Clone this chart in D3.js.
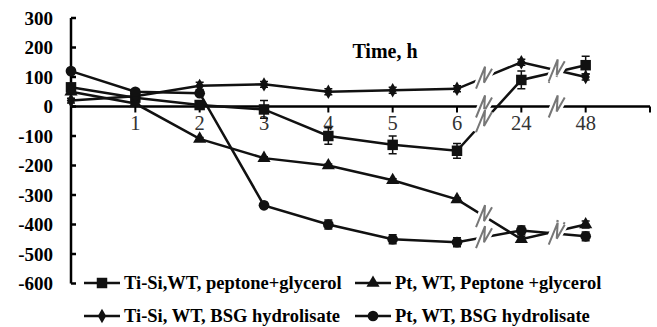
<!DOCTYPE html>
<html>
<head>
<meta charset="utf-8">
<script src="https://cdn.jsdelivr.net/npm/d3@7.9.0/dist/d3.min.js"></script>
<style>
  body { margin: 0; background: #fff; }
  svg { display: block; font-family: "Liberation Serif", "Times New Roman", serif; }
</style>
</head>
<body>
<div id="chart"></div>
<script>
// categories (hours); last slot is an empty category at the end of the axis
const hours = ["0", "1", "2", "3", "4", "5", "6", "24", "48", ""];
const yTicks = [300, 200, 100, 0, -100, -200, -300, -400, -500, -600];

const tiSiPeptone = [65, 30, 5, -10, -100, -130, -150, 90, 140];
const tiSiPeptoneErr = [12, 8, 8, 30, 28, 30, 25, 30, 30];
const ptPeptone = [50, 10, -110, -175, -200, -250, -315, -450, -400];
const ptPeptoneErr = [5, 5, 5, 5, 5, 5, 5, 10, 12];
const tiSiBsg = [20, 35, 70, 75, 50, 55, 60, 150, 100];
const tiSiBsgErr = [8, 8, 12, 10, 10, 10, 10, 10, 10];
const ptBsg = [120, 50, 45, -335, -400, -450, -460, -420, -440];
const ptBsgErr = [8, 8, 8, 10, 15, 15, 15, 15, 15];

const series = [
  { name: "Ti-Si,WT, peptone+glycerol", values: tiSiPeptone, err: tiSiPeptoneErr, shape: d3.symbolSquare, size: 110 },
  { name: "Pt, WT, Peptone +glycerol", values: ptPeptone, err: ptPeptoneErr, shape: d3.symbolTriangle, size: 75 },
  { name: "Ti-Si, WT, BSG hydrolisate", values: tiSiBsg, err: tiSiBsgErr, shape: d3.symbolDiamond, size: 60 },
  { name: "Pt, WT, BSG hydrolisate", values: ptBsg, err: ptBsgErr, shape: d3.symbolCircle, size: 90 },
];

const width = 657, height = 327;
const svg = d3.select("#chart").append("svg")
  .attr("width", width).attr("height", height);

const x = d3.scalePoint().domain(d3.range(hours.length)).range([71, 650]);
const y = d3.scaleLinear().domain([-600, 300]).range([283.5, 18]);

// y axis
svg.append("line")
  .attr("x1", 71).attr("x2", 71).attr("y1", y(300)).attr("y2", y(-600))
  .attr("stroke", "#000").attr("stroke-width", 2.5);
svg.append("g").selectAll("line").data(yTicks).join("line")
  .attr("x1", 71).attr("x2", 76).attr("y1", d => y(d)).attr("y2", d => y(d))
  .attr("stroke", "#000").attr("stroke-width", 2.5);
svg.append("g").selectAll("text").data(yTicks).join("text")
  .attr("x", 53).attr("y", d => y(d)).attr("dy", "0.35em")
  .attr("text-anchor", "end").attr("font-size", 19).attr("font-weight", "bold")
  .text(d => d);

// x axis at zero
svg.append("line")
  .attr("x1", 71).attr("x2", 650).attr("y1", y(0)).attr("y2", y(0))
  .attr("stroke", "#000").attr("stroke-width", 2.5);
svg.append("g").selectAll("line").data(d3.range(1, hours.length)).join("line")
  .attr("x1", d => x(d)).attr("x2", d => x(d)).attr("y1", y(0)).attr("y2", y(0) + 6)
  .attr("stroke", "#000").attr("stroke-width", 2);
svg.append("g").selectAll("text").data(d3.range(1, hours.length)).join("text")
  .attr("x", d => x(d)).attr("y", 130)
  .attr("text-anchor", "middle").attr("font-size", 20.5).attr("fill", "#333")
  .text(d => hours[d]);

svg.append("text").attr("x", 385).attr("y", 58).attr("text-anchor", "middle")
  .attr("font-size", 20).attr("font-weight", "bold").text("Time, h");

// lines
const line = d3.line().x((d, i) => x(i)).y(d => y(d));
svg.append("g").selectAll("path").data(series).join("path")
  .attr("d", d => line(d.values))
  .attr("fill", "none").attr("stroke", "#111").attr("stroke-width", 2.5);

// axis breaks (zigzags) between 6-24 and 24-48
const zig = "M-8,11L1,-11L0,5L8,-9";
const breakPts = [];
[[6, 0.42], [7, 0.55]].forEach(([i, t]) => {
  breakPts.push([x(i) + t * (x(i + 1) - x(i)), y(0)]);
  series.forEach(s => {
    const v = s.values[i] + t * (s.values[i + 1] - s.values[i]);
    breakPts.push([x(i) + t * (x(i + 1) - x(i)), y(v)]);
  });
});
const brk = svg.append("g").selectAll("g").data(breakPts).join("g")
  .attr("transform", d => `translate(${d[0]},${d[1]})`);
brk.append("path").attr("d", zig).attr("fill", "none")
  .attr("stroke", "#fff").attr("stroke-width", 7);
brk.append("path").attr("d", zig).attr("fill", "none")
  .attr("stroke", "#777").attr("stroke-width", 2);

// error bars + markers
series.forEach(s => {
  const g = svg.append("g");
  const pts = s.values.map((v, i) => ({ i, v, e: s.err[i] }));
  g.selectAll("path.err").data(pts).join("path").attr("class", "err")
    .attr("d", d => {
      const cx = x(d.i), y0 = y(d.v + d.e), y1 = y(d.v - d.e);
      return `M${cx},${y0}V${y1}M${cx - 4},${y0}H${cx + 4}M${cx - 4},${y1}H${cx + 4}`;
    })
    .attr("stroke", "#111").attr("stroke-width", 1.5).attr("fill", "none");
  g.selectAll("path.mk").data(pts).join("path").attr("class", "mk")
    .attr("transform", d => `translate(${x(d.i)},${y(d.v)})`)
    .attr("d", d3.symbol(s.shape, s.size))
    .attr("fill", "#111");
});

// legend
const legendPos = [[84, 283], [355, 283], [84, 316], [355, 316]];
series.forEach((s, k) => {
  const [lx, ly] = legendPos[k];
  const g = svg.append("g").attr("transform", `translate(${lx},${ly})`);
  g.append("line").attr("x1", 0).attr("x2", 36).attr("stroke", "#111").attr("stroke-width", 2.5);
  g.append("path").attr("transform", "translate(18,0)")
    .attr("d", d3.symbol(s.shape, s.size)).attr("fill", "#111");
  g.append("text").attr("x", 40).attr("dy", "0.35em")
    .attr("font-size", 18.5).attr("font-weight", "bold").text(s.name);
});
</script>
</body>
</html>
